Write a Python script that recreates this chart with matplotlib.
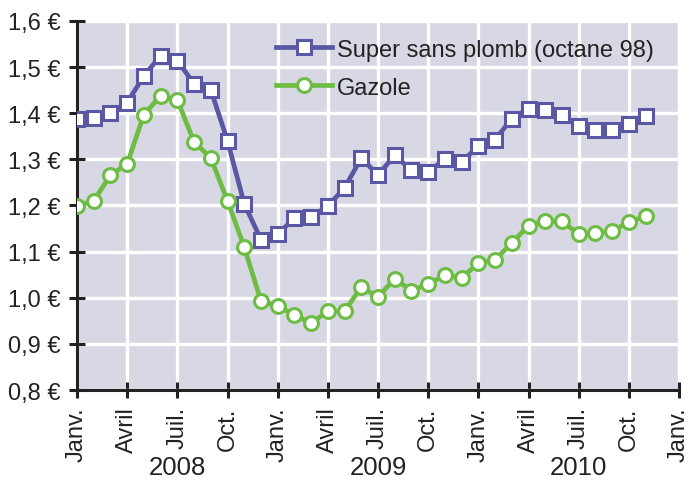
import matplotlib
matplotlib.use("Agg")
import matplotlib.pyplot as plt
import matplotlib.transforms as mtransforms

plt.rcParams['font.family'] = ['Liberation Sans', 'DejaVu Sans']

months = list(range(35))  # Jan 2008 .. Nov 2010
super98 = [1.387, 1.390, 1.401, 1.423, 1.481, 1.525, 1.514, 1.464, 1.451, 1.340,
           1.204, 1.126, 1.138, 1.172, 1.175, 1.199, 1.238, 1.303, 1.266, 1.309,
           1.276, 1.272, 1.301, 1.294, 1.329, 1.343, 1.388, 1.410, 1.406, 1.397,
           1.372, 1.364, 1.364, 1.377, 1.395]
gazole = [1.199, 1.210, 1.266, 1.290, 1.397, 1.438, 1.429, 1.338, 1.303, 1.210,
          1.110, 0.993, 0.982, 0.963, 0.945, 0.971, 0.971, 1.023, 1.002, 1.041,
          1.015, 1.030, 1.049, 1.043, 1.075, 1.082, 1.119, 1.156, 1.166, 1.166,
          1.138, 1.141, 1.145, 1.164, 1.177]
tick_months = list(range(0, 37, 3))
tick_labels = ['Janv.', 'Avril', 'Juil.', 'Oct.'] * 3 + ['Janv.']
years = ['2008', '2009', '2010']
year_centers = [6, 18, 30]
y_ticks = [0.8, 0.9, 1.0, 1.1, 1.2, 1.3, 1.4, 1.5, 1.6]
series_names = ['Super sans plomb (octane 98)', 'Gazole']

text_color = '#222222'
fig = plt.figure(figsize=(6.88, 4.81), dpi=100)
ax = fig.add_axes([77 / 688, 0.1871, 602 / 688, 0.7672])
ax.set_facecolor('#d8d8e4')

purple = '#5a58a4'
green = '#6dbd45'
ax.plot(months, super98, color=purple, lw=3.4, marker='s', ms=9.5,
        mfc='white', mec=purple, mew=2.2, label=series_names[0], zorder=3)
ax.plot(months, gazole, color=green, lw=3.4, marker='o', ms=10,
        mfc='white', mec=green, mew=2.2, label=series_names[1], zorder=3)

ax.set_xlim(0, 36)
ax.set_ylim(0.8, 1.6)
ax.set_xticks(tick_months)
ax.set_xticklabels(tick_labels, rotation=90, fontsize=17, color=text_color)
ax.set_yticks(y_ticks)
ax.set_yticklabels([('%.1f €' % v).replace('.', ',') for v in y_ticks],
                   fontsize=17, color=text_color)

ax.grid(True, color='white', lw=2.4, zorder=0)
ax.set_axisbelow(True)
for s in ['top', 'right']:
    ax.spines[s].set_visible(False)
for s in ['left', 'bottom']:
    ax.spines[s].set_linewidth(2.2)
    ax.spines[s].set_color(text_color)
ax.tick_params(direction='inout', length=11.5, width=2.2, color=text_color)
ax.tick_params(axis='y', pad=6)
ax.tick_params(axis='x', pad=6)

trans = mtransforms.blended_transform_factory(ax.transData, fig.transFigure)
for yr, c in zip(years, year_centers):
    ax.text(c, 0.002, yr, transform=trans, ha='center', va='bottom',
            fontsize=18.5, color=text_color)

leg = ax.legend(loc='upper left', bbox_to_anchor=(0.33, 0.952), frameon=False,
                fontsize=17, handlelength=2.4, handletextpad=0.2,
                labelspacing=0.68, borderpad=0, borderaxespad=0)
for t in leg.get_texts():
    t.set_color(text_color)

fig.savefig('out.png', dpi=100)
